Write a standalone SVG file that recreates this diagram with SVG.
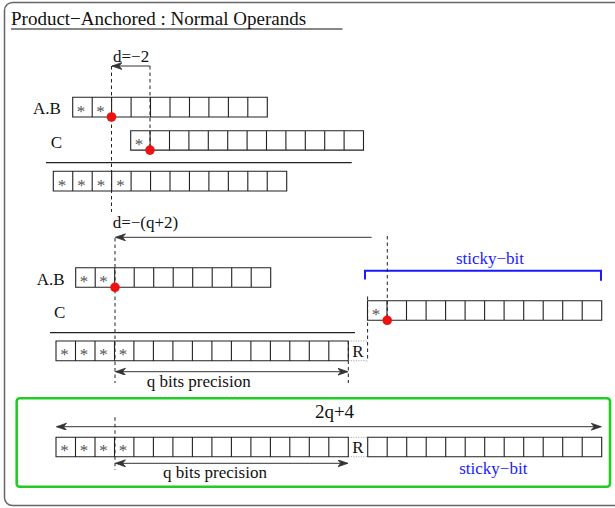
<svg xmlns="http://www.w3.org/2000/svg" width="615" height="508" viewBox="0 0 615 508">
<style>
text{font-family:"Liberation Serif","Times New Roman",serif;font-size:17px;fill:#111}
.title{font-size:19px}
.big{font-size:19px}
.star{fill:#555;text-anchor:middle}
.blue{fill:#1a1aff}
.cells{fill:#fff;stroke:#222;stroke-width:1.1}
.dash{stroke:#222;stroke-width:1;stroke-dasharray:3.5,3;fill:none}
.dot{stroke:#999;stroke-width:1;stroke-dasharray:1,1.5;fill:none}
.ln{stroke:#222;stroke-width:1.2;fill:none}
.arr{stroke:#333;stroke-width:1;fill:none}
.red{fill:#ee1111}
</style>
<defs>
<marker id="ah" markerUnits="userSpaceOnUse" markerWidth="12" markerHeight="8" refX="10" refY="3.5" orient="auto-start-reverse">
<path d="M0,0 L10,3.5 L0,7 L3,3.5Z" fill="#333" stroke="#333" stroke-width="0.8" stroke-linejoin="round"/>
</marker>
</defs>
<rect x="4.5" y="2.5" width="625" height="503" rx="8" fill="none" stroke="#666" stroke-width="1.5"/>
<g id="title">
<text class="title" x="11" y="24.5">Product−Anchored : Normal Operands</text>
<line x1="11" y1="29" x2="342.5" y2="29" stroke="#111" stroke-width="1.2"/>
</g>
<g id="section1">
<text x="33" y="114.3">A.B</text>
<text x="50.7" y="148.3">C</text>
<line class="ln" x1="46" y1="162.7" x2="351.7" y2="162.7"/>
<text x="113" y="62">d=−2</text>
</g>
<g id="s1-ab">
<path class="cells" d="M72.7,97.3H267.3V117H72.7Z M92.2,97.3v19.7 M111.6,97.3v19.7 M131.1,97.3v19.7 M150.5,97.3v19.7 M170,97.3v19.7 M189.5,97.3v19.7 M208.9,97.3v19.7 M228.4,97.3v19.7 M247.8,97.3v19.7"/>
<text class="star" x="81" y="116.5">*</text>
<text class="star" x="100.5" y="116.5">*</text>
</g>
<g id="s1-c">
<path class="cells" d="M130.7,130.7H363.5V150.1H130.7Z M150.1,130.7v19.4 M169.5,130.7v19.4 M188.9,130.7v19.4 M208.3,130.7v19.4 M227.7,130.7v19.4 M247.1,130.7v19.4 M266.5,130.7v19.4 M285.9,130.7v19.4 M305.3,130.7v19.4 M324.7,130.7v19.4 M344.1,130.7v19.4"/>
<text class="star" x="139" y="149.5">*</text>
</g>
<g id="s1-result">
<path class="cells" d="M53.3,171.3H286.7V191H53.3Z M72.75,171.3v19.7 M92.2,171.3v19.7 M111.65,171.3v19.7 M131.1,171.3v19.7 M150.55,171.3v19.7 M170,171.3v19.7 M189.45,171.3v19.7 M208.9,171.3v19.7 M228.35,171.3v19.7 M247.8,171.3v19.7 M267.25,171.3v19.7"/>
<text class="star" x="62" y="190.5">*</text>
<text class="star" x="81.5" y="190.5">*</text>
<text class="star" x="101" y="190.5">*</text>
<text class="star" x="120.5" y="190.5">*</text>
</g>
<g id="section2">
<text x="36.7" y="285">A.B</text>
<text x="54" y="318">C</text>
<line class="ln" x1="50" y1="332.7" x2="355" y2="332.7"/>
<text x="112.7" y="228">d=−(q+2)</text>
<text x="358" y="356.7" text-anchor="middle">R</text>
<text x="198.7" y="387" text-anchor="middle">q bits precision</text>
<text class="blue" x="490" y="264.3" text-anchor="middle">sticky−bit</text>
<path d="M365,279.5V270.7H601V280.7" fill="none" stroke="#1a1aff" stroke-width="2"/>
</g>
<g id="s2-ab">
<path class="cells" d="M75.7,267.7H270.7V287.3H75.7Z M95.2,267.7v19.6 M114.7,267.7v19.6 M134.2,267.7v19.6 M153.7,267.7v19.6 M173.2,267.7v19.6 M192.7,267.7v19.6 M212.2,267.7v19.6 M231.7,267.7v19.6 M251.2,267.7v19.6"/>
<text class="star" x="84" y="286.8">*</text>
<text class="star" x="103.5" y="286.8">*</text>
</g>
<g id="s2-result">
<path class="cells" d="M56,341H348.3V360.7H56Z M75.5,341v19.7 M95,341v19.7 M114.5,341v19.7 M133.9,341v19.7 M153.4,341v19.7 M172.9,341v19.7 M192.4,341v19.7 M211.9,341v19.7 M231.4,341v19.7 M250.9,341v19.7 M270.4,341v19.7 M289.8,341v19.7 M309.3,341v19.7 M328.8,341v19.7"/>
<text class="star" x="64.5" y="360">*</text>
<text class="star" x="84" y="360">*</text>
<text class="star" x="103.5" y="360">*</text>
<text class="star" x="123" y="360">*</text>
<path class="dot" d="M348.3,341H367.6M348.3,360.7H367.6"/>
</g>
<g id="s2-c">
<path class="cells" d="M367.5,300.7H601.7V320.3H367.5Z M387,300.7v19.6 M406.5,300.7v19.6 M426.1,300.7v19.6 M445.6,300.7v19.6 M465.1,300.7v19.6 M484.6,300.7v19.6 M504.1,300.7v19.6 M523.7,300.7v19.6 M543.2,300.7v19.6 M562.7,300.7v19.6 M582.2,300.7v19.6"/>
<text class="star" x="376" y="319.8">*</text>
</g>
<g id="bottom">
<rect x="16.7" y="398.3" width="593.3" height="88.4" rx="3" fill="none" stroke="#22cc22" stroke-width="2.6"/>
<text class="big" x="334.5" y="418.3" text-anchor="middle">2q+4</text>
<text x="215" y="478.3" text-anchor="middle">q bits precision</text>
<text class="blue" x="493.3" y="474.3" text-anchor="middle">sticky−bit</text>
<text x="358" y="453.3" text-anchor="middle">R</text>
<path class="dot" d="M348.3,437.3H367.7M348.3,456.7H367.7"/>
</g>
<g id="b-main">
<path class="cells" d="M56,437.3H348.3V456.7H56Z M75.5,437.3v19.4 M95,437.3v19.4 M114.5,437.3v19.4 M133.9,437.3v19.4 M153.4,437.3v19.4 M172.9,437.3v19.4 M192.4,437.3v19.4 M211.9,437.3v19.4 M231.4,437.3v19.4 M250.9,437.3v19.4 M270.4,437.3v19.4 M289.8,437.3v19.4 M309.3,437.3v19.4 M328.8,437.3v19.4"/>
<text class="star" x="64.5" y="456">*</text>
<text class="star" x="84" y="456">*</text>
<text class="star" x="103.5" y="456">*</text>
<text class="star" x="123" y="456">*</text>
</g>
<g id="b-sticky">
<path class="cells" d="M367.7,437.3H601.7V456.7H367.7Z M387.2,437.3v19.4 M406.7,437.3v19.4 M426.2,437.3v19.4 M445.7,437.3v19.4 M465.2,437.3v19.4 M484.7,437.3v19.4 M504.2,437.3v19.4 M523.7,437.3v19.4 M543.2,437.3v19.4 M562.7,437.3v19.4 M582.2,437.3v19.4"/>
</g>
<g id="connectors">
<line class="dash" x1="111.5" y1="66" x2="111.5" y2="212"/>
<line class="dash" x1="150" y1="66" x2="150" y2="150"/>
<line class="arr" x1="150" y1="66" x2="112" y2="66" marker-end="url(#ah)"/>
<line class="arr" x1="371.7" y1="237.3" x2="115.5" y2="237.3" marker-end="url(#ah)"/>
<line class="dash" x1="115" y1="238" x2="115" y2="383"/>
<line class="dash" x1="387.3" y1="236" x2="387.3" y2="320"/>
<line class="dash" x1="367.6" y1="296.5" x2="367.6" y2="361.7"/>
<line class="dash" x1="348.3" y1="341" x2="348.3" y2="383"/>
<line class="arr" x1="115.5" y1="371.7" x2="347.8" y2="371.7" marker-start="url(#ah)" marker-end="url(#ah)"/>
<line class="dash" x1="115" y1="417.3" x2="115" y2="470"/>
<line class="arr" x1="56.5" y1="426.7" x2="601.2" y2="426.7" marker-start="url(#ah)" marker-end="url(#ah)"/>
<line class="arr" x1="115.5" y1="463.3" x2="347.8" y2="463.3" marker-start="url(#ah)" marker-end="url(#ah)"/>
<circle class="red" cx="111.5" cy="117" r="4.8"/>
<circle class="red" cx="150" cy="150.1" r="4.8"/>
<circle class="red" cx="115" cy="287.3" r="4.8"/>
<circle class="red" cx="387.2" cy="320.3" r="4.8"/>
</g>
</svg>
